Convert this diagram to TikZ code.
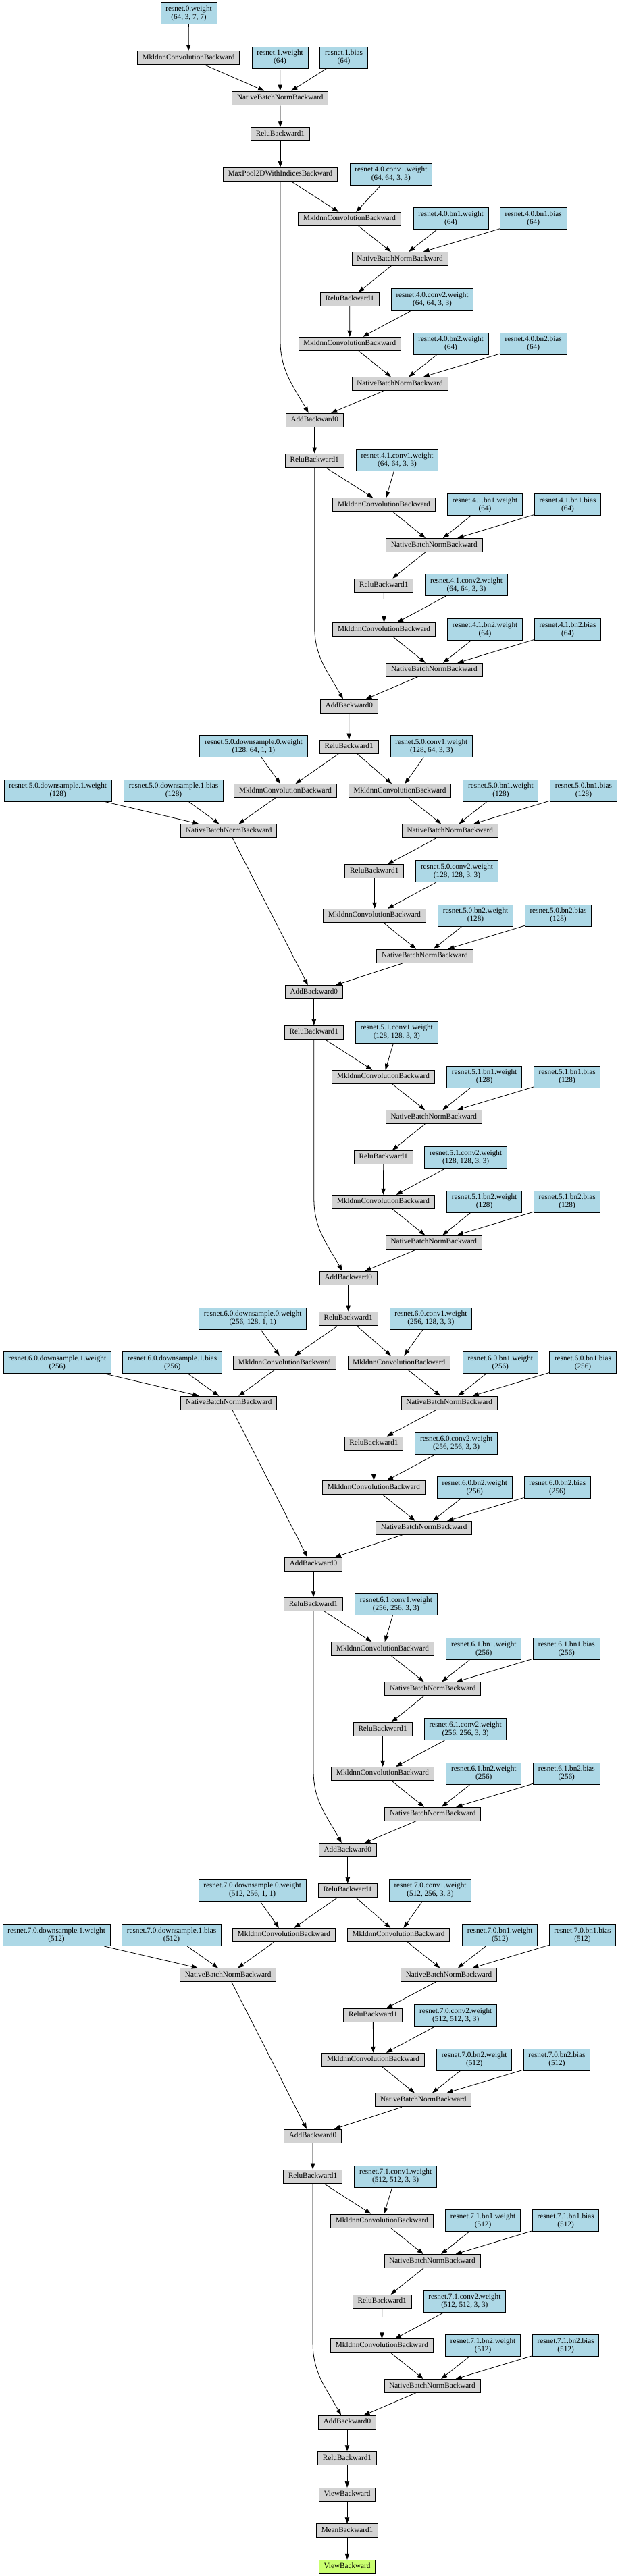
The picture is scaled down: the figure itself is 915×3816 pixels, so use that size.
\documentclass[tikz,border=0pt]{standalone}
\usepackage{fontspec}
\setmainfont{Liberation Serif}
\usetikzlibrary{arrows.meta}
\definecolor{lblue}{HTML}{ADD8E6}
\definecolor{lgray}{HTML}{D3D3D3}
\definecolor{lgreen}{HTML}{CAFF70}
\tikzset{
  basebox/.style={draw=black, line width=0.9pt, font=\fontsize{11.2}{12}\selectfont, inner xsep=7.3pt, inner ysep=0pt},
  gnode/.style={basebox, fill=lgray, minimum height=20pt, text height=7.8pt, text depth=2.6pt},
  grnode/.style={gnode, fill=lgreen},
  bnode/.style={basebox, fill=lblue, align=center, minimum height=32pt},
  edge/.style={draw=black, line width=0.8pt, -{Triangle[length=9pt,width=6.5pt]}}
}
\begin{document}
\begin{tikzpicture}[x=1pt,y=-1pt]
\fill[white] (0,0) rectangle (915,3816);
\useasboundingbox (0,0) rectangle (915,3816);
% ---------- stem ----------
\node[bnode] (w0) at (279.5,19.5) {resnet.0.weight\\(64, 3, 7, 7)};
\node[gnode] (c0) at (279,85.5) {MkldnnConvolutionBackward};
\node[bnode] (w1) at (414.5,85.3) {resnet.1.weight\\(64)};
\node[bnode] (bb1) at (509,85.3) {resnet.1.bias\\(64)};
\node[gnode] (n0) at (414.8,145) {NativeBatchNormBackward};
\node[gnode] (r0) at (415,198.7) {ReluBackward1};
\node[gnode] (mp) at (415,258.3) {MaxPool2DWithIndicesBackward};
% ---------- block 4.0 ----------
\node[bnode] (b40-cw1) at (578.9,258.3) {resnet.4.0.conv1.weight\\(64, 64, 3, 3)};
\node[gnode] (b40-c1) at (517.5,324.3) {MkldnnConvolutionBackward};
\node[bnode] (b40-bw1) at (667.5,323.8) {resnet.4.0.bn1.weight\\(64)};
\node[bnode] (b40-bb1) at (789.7,323.8) {resnet.4.0.bn1.bias\\(64)};
\node[gnode] (b40-n1) at (592,383.5) {NativeBatchNormBackward};
\node[gnode] (b40-r) at (517.8,443.3) {ReluBackward1};
\node[bnode] (b40-cw2) at (640,443.5) {resnet.4.0.conv2.weight\\(64, 64, 3, 3)};
\node[gnode] (b40-c2) at (517.7,509.2) {MkldnnConvolutionBackward};
\node[bnode] (b40-bw2) at (667.5,509.2) {resnet.4.0.bn2.weight\\(64)};
\node[bnode] (b40-bb2) at (789.7,509.2) {resnet.4.0.bn2.bias\\(64)};
\node[gnode] (b40-n2) at (592,568.7) {NativeBatchNormBackward};
\node[gnode] (b40-add) at (465.7,622.3) {AddBackward0};
\node[gnode] (r41) at (465.7,682) {ReluBackward1};
% ---------- block 4.1 ----------
\node[bnode] (b41-cw1) at (588,681.8) {resnet.4.1.conv1.weight\\(64, 64, 3, 3)};
\node[gnode] (b41-c1) at (568.6,747.8) {MkldnnConvolutionBackward};
\node[bnode] (b41-bw1) at (718,747.5) {resnet.4.1.bn1.weight\\(64)};
\node[bnode] (b41-bb1) at (840.5,747.5) {resnet.4.1.bn1.bias\\(64)};
\node[gnode] (b41-n1) at (642.9,807.5) {NativeBatchNormBackward};
\node[gnode] (b41-r) at (568.3,867) {ReluBackward1};
\node[bnode] (b41-cw2) at (690.5,866.8) {resnet.4.1.conv2.weight\\(64, 64, 3, 3)};
\node[gnode] (b41-c2) at (568.6,932.5) {MkldnnConvolutionBackward};
\node[bnode] (b41-bw2) at (718,932.5) {resnet.4.1.bn2.weight\\(64)};
\node[bnode] (b41-bb2) at (840.5,932.5) {resnet.4.1.bn2.bias\\(64)};
\node[gnode] (b41-n2) at (642.9,992.3) {NativeBatchNormBackward};
\node[gnode] (b41-add) at (516.9,1046) {AddBackward0};
\node[gnode] (r50) at (516.6,1106) {ReluBackward1};
% ---------- block 5.0 ----------
\node[bnode] (b50-ds0w) at (375.4,1105.7) {resnet.5.0.downsample.0.weight\\(128, 64, 1, 1)};
\node[bnode] (b50-cw1) at (638.8,1105.7) {resnet.5.0.conv1.weight\\(128, 64, 3, 3)};
\node[gnode] (b50-dc) at (422.5,1171.5) {MkldnnConvolutionBackward};
\node[gnode] (b50-c1) at (592,1171.5) {MkldnnConvolutionBackward};
\node[bnode] (b50-ds1w) at (85.7,1171.2) {resnet.5.0.downsample.1.weight\\(128)};
\node[bnode] (b50-ds1b) at (257,1171.2) {resnet.5.0.downsample.1.bias\\(128)};
\node[bnode] (b50-bw1) at (741.4,1171.2) {resnet.5.0.bn1.weight\\(128)};
\node[bnode] (b50-bb1) at (863.9,1171.2) {resnet.5.0.bn1.bias\\(128)};
\node[gnode] (b50-dn) at (338.8,1230.8) {NativeBatchNormBackward};
\node[gnode] (b50-n1) at (666.3,1230.8) {NativeBatchNormBackward};
\node[gnode] (b50-r) at (554.3,1290.7) {ReluBackward1};
\node[bnode] (b50-cw2) at (676.5,1290.5) {resnet.5.0.conv2.weight\\(128, 128, 3, 3)};
\node[gnode] (b50-c2) at (554.6,1356.2) {MkldnnConvolutionBackward};
\node[bnode] (b50-bw2) at (704,1356.2) {resnet.5.0.bn2.weight\\(128)};
\node[bnode] (b50-bb2) at (826.5,1356.2) {resnet.5.0.bn2.bias\\(128)};
\node[gnode] (b50-n2) at (628.9,1416.2) {NativeBatchNormBackward};
\node[gnode] (b50-add) at (464.8,1469.7) {AddBackward0};
\node[gnode] (r51) at (464.8,1529.3) {ReluBackward1};
% ---------- block 5.1 ----------
\node[bnode] (b51-cw1) at (587.3,1529.2) {resnet.5.1.conv1.weight\\(128, 128, 3, 3)};
\node[gnode] (b51-c1) at (567.5,1595.3) {MkldnnConvolutionBackward};
\node[bnode] (b51-bw1) at (717.1,1595) {resnet.5.1.bn1.weight\\(128)};
\node[bnode] (b51-bb1) at (839.6,1595) {resnet.5.1.bn1.bias\\(128)};
\node[gnode] (b51-n1) at (642.3,1654.7) {NativeBatchNormBackward};
\node[gnode] (b51-r) at (567.7,1714.3) {ReluBackward1};
\node[bnode] (b51-cw2) at (689.6,1714.5) {resnet.5.1.conv2.weight\\(128, 128, 3, 3)};
\node[gnode] (b51-c2) at (567.5,1780.3) {MkldnnConvolutionBackward};
\node[bnode] (b51-bw2) at (717.1,1780.2) {resnet.5.1.bn2.weight\\(128)};
\node[bnode] (b51-bb2) at (839.6,1780.2) {resnet.5.1.bn2.bias\\(128)};
\node[gnode] (b51-n2) at (642.3,1840) {NativeBatchNormBackward};
\node[gnode] (b51-add) at (515.7,1893.3) {AddBackward0};
\node[gnode] (r60) at (515.7,1953) {ReluBackward1};
% ---------- block 6.0 ----------
\node[bnode] (b60-ds0w) at (374.2,1953) {resnet.6.0.downsample.0.weight\\(256, 128, 1, 1)};
\node[bnode] (b60-cw1) at (637.9,1953) {resnet.6.0.conv1.weight\\(256, 128, 3, 3)};
\node[gnode] (b60-dc) at (421.3,2018.7) {MkldnnConvolutionBackward};
\node[gnode] (b60-c1) at (590.8,2018.7) {MkldnnConvolutionBackward};
\node[bnode] (b60-ds1w) at (84.8,2018.5) {resnet.6.0.downsample.1.weight\\(256)};
\node[bnode] (b60-ds1b) at (255.2,2018.5) {resnet.6.0.downsample.1.bias\\(256)};
\node[bnode] (b60-bw1) at (740.8,2018.5) {resnet.6.0.bn1.weight\\(256)};
\node[bnode] (b60-bb1) at (863,2018.5) {resnet.6.0.bn1.bias\\(256)};
\node[gnode] (b60-dn) at (338.8,2078.2) {NativeBatchNormBackward};
\node[gnode] (b60-n1) at (665.1,2078.2) {NativeBatchNormBackward};
\node[gnode] (b60-r) at (553.4,2138) {ReluBackward1};
\node[bnode] (b60-cw2) at (675.6,2138) {resnet.6.0.conv2.weight\\(256, 256, 3, 3)};
\node[gnode] (b60-c2) at (553.4,2203.5) {MkldnnConvolutionBackward};
\node[bnode] (b60-bw2) at (702.8,2203.5) {resnet.6.0.bn2.weight\\(256)};
\node[bnode] (b60-bb2) at (825.3,2203.5) {resnet.6.0.bn2.bias\\(256)};
\node[gnode] (b60-n2) at (627.7,2263.3) {NativeBatchNormBackward};
\node[gnode] (b60-add) at (464,2317) {AddBackward0};
\node[gnode] (r61) at (464,2376.7) {ReluBackward1};
% ---------- block 6.1 ----------
\node[bnode] (b61-cw1) at (586.4,2376.7) {resnet.6.1.conv1.weight\\(256, 256, 3, 3)};
\node[gnode] (b61-c1) at (566.6,2442.5) {MkldnnConvolutionBackward};
\node[bnode] (b61-bw1) at (716.3,2442.3) {resnet.6.1.bn1.weight\\(256)};
\node[bnode] (b61-bb1) at (838.8,2442.3) {resnet.6.1.bn1.bias\\(256)};
\node[gnode] (b61-n1) at (640.8,2501.8) {NativeBatchNormBackward};
\node[gnode] (b61-r) at (566.6,2561.7) {ReluBackward1};
\node[bnode] (b61-cw2) at (689.1,2561.7) {resnet.6.1.conv2.weight\\(256, 256, 3, 3)};
\node[gnode] (b61-c2) at (566.6,2627.3) {MkldnnConvolutionBackward};
\node[bnode] (b61-bw2) at (716.3,2627.2) {resnet.6.1.bn2.weight\\(256)};
\node[bnode] (b61-bb2) at (838.8,2627.2) {resnet.6.1.bn2.bias\\(256)};
\node[gnode] (b61-n2) at (640.8,2687.2) {NativeBatchNormBackward};
\node[gnode] (b61-add) at (514.8,2740.5) {AddBackward0};
\node[gnode] (r70) at (514.8,2800.3) {ReluBackward1};
% ---------- block 7.0 ----------
\node[bnode] (b70-ds0w) at (373.6,2800.2) {resnet.7.0.downsample.0.weight\\(512, 256, 1, 1)};
\node[bnode] (b70-cw1) at (637,2800.2) {resnet.7.0.conv1.weight\\(512, 256, 3, 3)};
\node[gnode] (b70-dc) at (420.4,2866.3) {MkldnnConvolutionBackward};
\node[gnode] (b70-c1) at (590,2866.3) {MkldnnConvolutionBackward};
\node[bnode] (b70-ds1w) at (83.6,2866.5) {resnet.7.0.downsample.1.weight\\(512)};
\node[bnode] (b70-ds1b) at (254,2866.5) {resnet.7.0.downsample.1.bias\\(512)};
\node[bnode] (b70-bw1) at (740.2,2866.5) {resnet.7.0.bn1.weight\\(512)};
\node[bnode] (b70-bb1) at (862.4,2866.5) {resnet.7.0.bn1.bias\\(512)};
\node[gnode] (b70-dn) at (337.7,2925.8) {NativeBatchNormBackward};
\node[gnode] (b70-n1) at (664.5,2925.8) {NativeBatchNormBackward};
\node[gnode] (b70-r) at (552.3,2985.3) {ReluBackward1};
\node[bnode] (b70-cw2) at (674.7,2985.3) {resnet.7.0.conv2.weight\\(512, 512, 3, 3)};
\node[gnode] (b70-c2) at (552.6,3051.2) {MkldnnConvolutionBackward};
\node[bnode] (b70-bw2) at (702.2,3051.2) {resnet.7.0.bn2.weight\\(512)};
\node[bnode] (b70-bb2) at (824.4,3051.2) {resnet.7.0.bn2.bias\\(512)};
\node[gnode] (b70-n2) at (626.8,3110.7) {NativeBatchNormBackward};
\node[gnode] (b70-add) at (463,3164.3) {AddBackward0};
\node[gnode] (r71) at (463.1,3224) {ReluBackward1};
% ---------- block 7.1 ----------
\node[bnode] (b71-cw1) at (585.6,3224.2) {resnet.7.1.conv1.weight\\(512, 512, 3, 3)};
\node[gnode] (b71-c1) at (565.4,3290) {MkldnnConvolutionBackward};
\node[bnode] (b71-bw1) at (715.1,3289.8) {resnet.7.1.bn1.weight\\(512)};
\node[bnode] (b71-bb1) at (837.6,3289.8) {resnet.7.1.bn1.bias\\(512)};
\node[gnode] (b71-n1) at (640,3349.5) {NativeBatchNormBackward};
\node[gnode] (b71-r) at (565.7,3409.2) {ReluBackward1};
\node[bnode] (b71-cw2) at (687.9,3409.2) {resnet.7.1.conv2.weight\\(512, 512, 3, 3)};
\node[gnode] (b71-c2) at (565.4,3474.8) {MkldnnConvolutionBackward};
\node[bnode] (b71-bw2) at (715.1,3474.8) {resnet.7.1.bn2.weight\\(512)};
\node[bnode] (b71-bb2) at (837.6,3474.8) {resnet.7.1.bn2.bias\\(512)};
\node[gnode] (b71-n2) at (640,3534.5) {NativeBatchNormBackward};
\node[gnode] (b71-add) at (514,3588.2) {AddBackward0};
% ---------- tail ----------
\node[gnode] (rend) at (514,3641.7) {ReluBackward1};
\node[gnode] (view1) at (514,3695.3) {ViewBackward};
\node[gnode] (mean) at (514,3748.7) {MeanBackward1};
\node[grnode] (view2) at (514,3802.3) {ViewBackward};
% ---------- edges ----------
\draw[edge] (w0) -- (c0);
\draw[edge] (c0) -- (n0);
\draw[edge] (w1) -- (n0);
\draw[edge] (bb1) -- (n0);
\draw[edge] (n0) -- (r0);
\draw[edge] (r0) -- (mp);
\foreach \p in {b40,b41,b50,b51,b60,b61,b70,b71}{
  \draw[edge] (\p-cw1) -- (\p-c1);
  \draw[edge] (\p-c1) -- (\p-n1);
  \draw[edge] (\p-bw1) -- (\p-n1);
  \draw[edge] (\p-bb1) -- (\p-n1);
  \draw[edge] (\p-n1) -- (\p-r);
  \draw[edge] (\p-r) -- (\p-c2);
  \draw[edge] (\p-cw2) -- (\p-c2);
  \draw[edge] (\p-c2) -- (\p-n2);
  \draw[edge] (\p-bw2) -- (\p-n2);
  \draw[edge] (\p-bb2) -- (\p-n2);
  \draw[edge] (\p-n2) -- (\p-add);
}
\foreach \p in {b50,b60,b70}{
  \draw[edge] (\p-ds0w) -- (\p-dc);
  \draw[edge] (\p-dc) -- (\p-dn);
  \draw[edge] (\p-ds1w) -- (\p-dn);
  \draw[edge] (\p-ds1b) -- (\p-dn);
  \draw[edge] (\p-dn) -- ([xshift=-9pt]\p-add.north);
}
% inputs of blocks
\draw[edge] (mp) -- (b40-c1);
\draw[edge] (r41) -- (b41-c1);
\draw[edge] (r50) -- (b50-dc);
\draw[edge] (r50) -- (b50-c1);
\draw[edge] (r51) -- (b51-c1);
\draw[edge] (r60) -- (b60-dc);
\draw[edge] (r60) -- (b60-c1);
\draw[edge] (r61) -- (b61-c1);
\draw[edge] (r70) -- (b70-dc);
\draw[edge] (r70) -- (b70-c1);
\draw[edge] (r71) -- (b71-c1);
% add -> relu
\draw[edge] (b40-add) -- (r41);
\draw[edge] (b41-add) -- (r50);
\draw[edge] (b50-add) -- (r51);
\draw[edge] (b51-add) -- (r60);
\draw[edge] (b60-add) -- (r61);
\draw[edge] (b61-add) -- (r70);
\draw[edge] (b70-add) -- (r71);
\draw[edge] (b71-add) -- (rend);
\draw[edge] (rend) -- (view1);
\draw[edge] (view1) -- (mean);
\draw[edge] (mean) -- (view2);
% skip connections (identity)
\draw[edge] (mp.south) -- ++(0,236) .. controls (415,549.3) and (434.7,572.3) .. ([xshift=-9pt]b40-add.north);
\draw[edge] (r41.south) -- ++(0,236) .. controls (465.7,973) and (485.9,996) .. ([xshift=-9pt]b41-add.north);
\draw[edge] (r51.south) -- ++(0,236) .. controls (464.8,1820.3) and (484.7,1843.3) .. ([xshift=-9pt]b51-add.north);
\draw[edge] (r61.south) -- ++(0,236) .. controls (464,2667.3) and (483.8,2690.3) .. ([xshift=-9pt]b61-add.north);
\draw[edge] (r71.south) -- ++(0,236) .. controls (463.1,3515) and (483,3538) .. ([xshift=-9pt]b71-add.north);
\end{tikzpicture}
\end{document}
